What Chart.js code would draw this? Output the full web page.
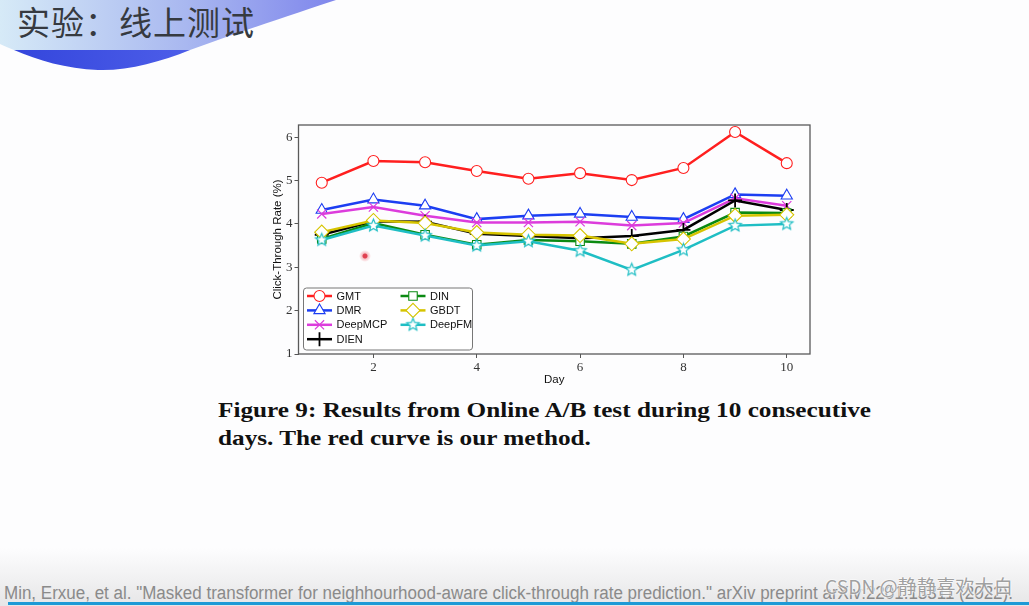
<!DOCTYPE html>
<html>
<head>
<meta charset="utf-8">
<script src="https://cdn.jsdelivr.net/npm/chart.js@4/dist/chart.umd.min.js"></script>
<style>
  html, body { margin: 0; padding: 0; }
  body { width: 1029px; height: 606px; position: relative; overflow: hidden; background: #fdfdfe; font-family: "Liberation Sans", Arial, sans-serif; }
  #deco { position: absolute; left: 0; top: 0; }
  #titre { position: absolute; left: 17px; top: -3px; font-family: "Noto Sans CJK SC", sans-serif; font-size: 33px; color: #363a40; letter-spacing: 1px; }
  #grafico { position: absolute; left: 269px; top: 115px; }
  #legenda { position: absolute; left: 218px; top: 396px; font-family: "Liberation Serif", serif; font-weight: bold; font-size: 21px; line-height: 28px; color: #111; white-space: nowrap; transform-origin: 0 0; }
  #rodape { position: absolute; left: 0; top: 548px; width: 1029px; height: 58px; background: linear-gradient(#fdfdfe, #e6e6e7); }
  #ref { position: absolute; left: 4px; top: 583px; font-family: "Liberation Sans Narrow", "Liberation Sans", sans-serif; font-size: 18px; color: #8a8a8a; white-space: nowrap; transform-origin: 0 0; }
  #linhaAzul { position: absolute; left: 8px; top: 602px; width: 1021px; height: 2.5px; background: #1d9ad6; }
  #marca { position: absolute; left: 825px; top: 572px; font-family: "Noto Sans CJK SC", sans-serif; font-size: 19px; color: #a0a0a0; text-shadow: 0 0 2px #fff, 0 0 2px #fff, 0 0 1px #fff; white-space: nowrap; transform-origin: 0 0; }
  #ponto { position: absolute; left: 359px; top: 250px; width: 12px; height: 12px; border-radius: 50%; background: radial-gradient(circle, #e04050 0 2px, rgba(240,120,130,0.45) 3px, rgba(255,200,200,0) 6px); }
</style>
</head>
<body>
<svg id="deco" width="400" height="80">
  <defs>
    <linearGradient id="gClaro" x1="0" y1="0" x2="1" y2="0">
      <stop offset="0" stop-color="#d6eaf7"/>
      <stop offset="0.55" stop-color="#a9b8f0"/>
      <stop offset="1" stop-color="#7f86ec"/>
    </linearGradient>
    <linearGradient id="gEscuro" x1="0" y1="0" x2="1" y2="0">
      <stop offset="0" stop-color="#3446dc"/>
      <stop offset="1" stop-color="#4d5ee9"/>
    </linearGradient>
  </defs>
  <path d="M0,0 L336,0 C300,12 245,30 190,50 L14,50 C9,48 4,46 0,44 Z" fill="url(#gClaro)"/>
  <path d="M14,50 L190,50 C160,62 128,71 98,70 C66,69 38,60 14,50 Z" fill="url(#gEscuro)"/>
</svg>
<div id="titre">实验：线上测试</div>

<canvas id="grafico" width="551" height="274"></canvas>
<div id="ponto"></div>

<div id="legenda">Figure 9: Results from Online A/B test during 10 consecutive<br>days. The red curve is our method.</div>

<div id="rodape"></div>
<div id="ref"><span id="refA">Min, Erxue, et al. "Masked transformer for neighhourhood-aware click-through rate prediction."</span> arXiv preprint arXiv:2201.13311 (2022).</div>
<div id="linhaAzul"></div>
<div id="marca">CSDN @静静喜欢大白</div>

<script>
// Dados (CTR em %)
const dias = [1, 2, 3, 4, 5, 6, 7, 8, 9, 10];
const ticksX = [2, 4, 6, 8, 10];
const ticksY = [1, 2, 3, 4, 5, 6];

const gmt     = [4.95, 5.45, 5.42, 5.22, 5.04, 5.17, 5.01, 5.29, 6.12, 5.40];
const dmr     = [4.32, 4.56, 4.42, 4.11, 4.19, 4.23, 4.16, 4.11, 4.68, 4.65];
const deepMCP = [4.23, 4.39, 4.19, 4.03, 4.03, 4.05, 3.96, 4.02, 4.59, 4.42];
const dien    = [3.75, 4.06, 4.05, 3.77, 3.72, 3.67, 3.72, 3.86, 4.54, 4.32];
const din     = [3.65, 4.02, 3.75, 3.52, 3.63, 3.60, 3.54, 3.71, 4.26, 4.25];
const gbdt    = [3.81, 4.08, 4.02, 3.80, 3.75, 3.73, 3.54, 3.65, 4.19, 4.21];
const deepFM  = [3.63, 3.96, 3.73, 3.50, 3.60, 3.38, 2.94, 3.40, 3.96, 4.00];

// Estrela de 5 pontas (marcador do DeepFM)
function criarEstrela(cor, r) {
    const c = document.createElement('canvas');
    const s = Math.ceil(r * 2 + 4);
    c.width = s; c.height = s;
    const g = c.getContext('2d');
    g.beginPath();
    for (let i = 0; i < 10; i++) {
        const rr = i % 2 === 0 ? r : r * 0.45;
        const ang = -Math.PI / 2 + i * Math.PI / 5;
        const px = s / 2 + rr * Math.cos(ang);
        const py = s / 2 + rr * Math.sin(ang);
        if (i === 0) g.moveTo(px, py); else g.lineTo(px, py);
    }
    g.closePath();
    g.fillStyle = '#ffffff';
    g.fill();
    g.strokeStyle = cor;
    g.lineWidth = 1.2;
    g.stroke();
    return c;
}

function serie(nome, valores, cor, estilo, raio, larguraMarcador) {
    return {
        label: nome,
        data: dias.map((d, i) => ({ x: d, y: valores[i] })),
        borderColor: cor,
        borderWidth: 2.5,
        pointStyle: estilo,
        pointRadius: raio,
        pointBorderColor: cor,
        pointBackgroundColor: '#ffffff',
        pointBorderWidth: larguraMarcador,
        tension: 0
    };
}

const series = [
    serie('GMT', gmt, '#ff1f1f', 'circle', 5.5, 1.1),
    serie('DMR', dmr, '#1c3ef2', 'triangle', 6.5, 1.1),
    serie('DeepMCP', deepMCP, '#dc3cdc', 'crossRot', 6.5, 1.2),
    serie('DIEN', dien, '#000000', 'cross', 7, 1.8),
    serie('DIN', din, '#0b8a12', 'rect', 6, 1.1),
    serie('GBDT', gbdt, '#d6c400', 'rectRot', 7, 1.1),
    serie('DeepFM', deepFM, '#1fbec4', criarEstrela('#1fbec4', 6.5), 6.5, 1.1)
];
// as últimas séries ficam por cima, como no matplotlib
series.forEach((s, i) => { s.order = series.length - 1 - i; });

// Moldura do gráfico e legenda dentro da área
const molduraELegenda = {
    id: 'molduraELegenda',
    afterDatasetsDraw(chart) {
        const ctx = chart.ctx, a = chart.chartArea;
        ctx.save();
        ctx.strokeStyle = '#5a5a5a';
        ctx.lineWidth = 1.3;
        ctx.strokeRect(a.left, a.top, a.right - a.left, a.bottom - a.top);
        ctx.restore();
    },
    afterDraw(chart) {
        const ctx = chart.ctx, a = chart.chartArea;
        const x0 = a.left + 5, y0 = a.bottom - 66, w = 169, h = 62;
        ctx.save();
        ctx.beginPath();
        ctx.roundRect(x0, y0, w, h, 3);
        ctx.fillStyle = 'rgba(255,255,255,0.85)';
        ctx.fill();
        ctx.strokeStyle = '#777';
        ctx.lineWidth = 1;
        ctx.stroke();
        ctx.font = '11px "Liberation Sans", Arial, sans-serif';
        ctx.textBaseline = 'middle';
        chart.data.datasets.forEach((ds, i) => {
            const col = i < 4 ? 0 : 1;
            const row = i < 4 ? i : i - 4;
            const lx = x0 + 3.5 + col * 93.5;
            const ly = y0 + 8 + row * 14.4;
            ctx.strokeStyle = ds.borderColor;
            ctx.lineWidth = ds.borderWidth;
            ctx.beginPath();
            ctx.moveTo(lx, ly);
            ctx.lineTo(lx + 25, ly);
            ctx.stroke();
            if (Chart.helpers && Chart.helpers.drawPoint) {
                ctx.fillStyle = ds.pointBackgroundColor;
                ctx.strokeStyle = ds.pointBorderColor;
                ctx.lineWidth = ds.pointBorderWidth;
                Chart.helpers.drawPoint(ctx, {
                    pointStyle: ds.pointStyle, radius: ds.pointRadius,
                    borderWidth: ds.pointBorderWidth, rotation: 0
                }, lx + 12.5, ly);
            }
            ctx.fillStyle = '#111';
            ctx.fillText(ds.label, lx + 29.5, ly + 0.5);
        });
        ctx.restore();
    }
};

new Chart(document.getElementById('grafico'), {
    type: 'line',
    data: { datasets: series },
    options: {
        responsive: false,
        animation: false,
        layout: { padding: { top: 10, right: 10, left: 0, bottom: 0 } },
        plugins: { legend: { display: false }, tooltip: { enabled: false } },
        scales: {
            x: {
                type: 'linear',
                min: 0.55,
                max: 10.45,
                afterBuildTicks: s => { s.ticks = ticksX.map(v => ({ value: v })); },
                afterFit: s => { s.height = 35; },
                grid: { drawOnChartArea: false, drawTicks: true, tickLength: 4, color: '#555' },
                border: { display: false },
                ticks: { font: { family: '"Liberation Serif", serif', size: 13 }, color: '#333', padding: 2, maxRotation: 0 },
                title: { display: true, text: 'Day', font: { family: '"Liberation Sans", Arial, sans-serif', size: 11.5 }, color: '#111', padding: { top: 0, bottom: 2 } }
            },
            y: {
                min: 1,
                max: 6.28,
                afterBuildTicks: s => { s.ticks = ticksY.map(v => ({ value: v })); },
                afterFit: s => { s.width = 29.5; },
                grid: { drawOnChartArea: false, drawTicks: true, tickLength: 4, color: '#555' },
                border: { display: false },
                ticks: { font: { family: '"Liberation Serif", serif', size: 13 }, color: '#333', padding: 2 },
                title: { display: true, text: 'Click-Through Rate (%)', font: { family: '"Liberation Sans", Arial, sans-serif', size: 11.5 }, color: '#111', padding: { top: 2, bottom: 0 } }
            }
        }
    },
    plugins: [molduraELegenda]
});

// Ajusta a largura dos textos para bater com a imagem
function ajustar(el, alvo, medida) {
    const larg = (medida || el).getBoundingClientRect().width;
    if (larg > 0) el.style.transform = 'scaleX(' + (alvo / larg) + ')';
}
ajustar(document.getElementById('legenda'), 653, null);
ajustar(document.getElementById('ref'), 708, document.getElementById('refA'));
ajustar(document.getElementById('marca'), 188, null);
</script>
</body>
</html>
